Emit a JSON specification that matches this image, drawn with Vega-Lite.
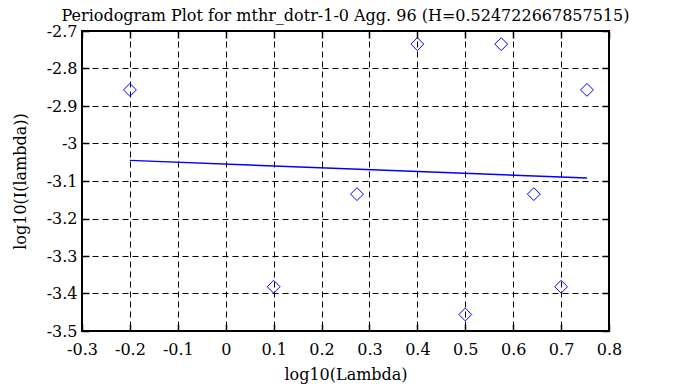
{
  "$schema": "https://vega.github.io/schema/vega-lite/v6.json",
  "width": 527,
  "height": 300,
  "autosize": {"type": "none"},
  "padding": {"left": 82, "top": 31, "right": 64, "bottom": 56},
  "background": "white",
  "title": {"text": "Periodogram Plot for mthr_dotr-1-0 Agg. 96 (H=0.524722667857515)", "font": "DejaVu Serif", "fontSize": 16, "fontWeight": "normal", "color": "black", "anchor": "middle", "offset": -1},
  "config": {
    "view": {"stroke": "black", "strokeWidth": 2},
    "axis": {"labelFont": "DejaVu Serif", "labelFontSize": 16, "labelColor": "black", "titleFont": "DejaVu Serif", "titleFontSize": 16, "titleFontWeight": "normal", "titleColor": "black", "domain": false, "tickColor": "black", "tickSize": -7, "tickWidth": 1.5, "gridColor": "black", "gridDash": [6, 4], "gridOpacity": 1, "gridWidth": 1}
  },
  "datasets": {
    "pts": [
      {"x": -0.2, "y": -2.857},
      {"x": 0.1, "y": -3.382},
      {"x": 0.274, "y": -3.135},
      {"x": 0.4, "y": -2.735},
      {"x": 0.5, "y": -3.456},
      {"x": 0.575, "y": -2.735},
      {"x": 0.643, "y": -3.135},
      {"x": 0.7, "y": -3.382},
      {"x": 0.754, "y": -2.857}
    ],
    "fit": [
      {"x": -0.2, "y": -3.045},
      {"x": 0.754, "y": -3.092}
    ]
  },
  "resolve": {"axis": {"x": "independent", "y": "independent"}},
  "layer": [
    {
      "data": {"name": "pts"},
      "mark": {"type": "point", "shape": "diamond", "filled": false, "color": "#0000ff", "size": 165, "strokeWidth": 1, "opacity": 1},
      "encoding": {
        "x": {"field": "x", "type": "quantitative", "scale": {"domain": [-0.3, 0.8], "nice": false, "zero": false}, "axis": {"title": "log10(Lambda)", "values": [-0.3, -0.2, -0.1, 0, 0.1, 0.2, 0.3, 0.4, 0.5, 0.6, 0.7, 0.8], "labelExpr": "toString(datum.value)", "labelFont": "DejaVu Serif", "labelPadding": 17, "titlePadding": 9, "labelFlush": false}},
        "y": {"field": "y", "type": "quantitative", "scale": {"domain": [-3.5, -2.7], "nice": false, "zero": false}, "axis": {"title": "log10(I(lambda))", "values": [-3.5, -3.4, -3.3, -3.2, -3.1, -3, -2.9, -2.8, -2.7], "labelExpr": "toString(datum.value)", "labelFont": "DejaVu Serif", "labelPadding": 12, "titlePadding": 18, "labelFlush": false}}
      }
    },
    {
      "data": {"name": "fit"},
      "mark": {"type": "line", "color": "#0000ff", "strokeWidth": 1.5},
      "encoding": {
        "x": {"field": "x", "type": "quantitative", "axis": {"orient": "top", "labels": false, "title": null, "grid": false, "values": [-0.3, -0.2, -0.1, 0, 0.1, 0.2, 0.3, 0.4, 0.5, 0.6, 0.7, 0.8]}},
        "y": {"field": "y", "type": "quantitative", "axis": {"orient": "right", "labels": false, "title": null, "grid": false, "values": [-3.5, -3.4, -3.3, -3.2, -3.1, -3, -2.9, -2.8, -2.7]}}
      }
    }
  ]
}
